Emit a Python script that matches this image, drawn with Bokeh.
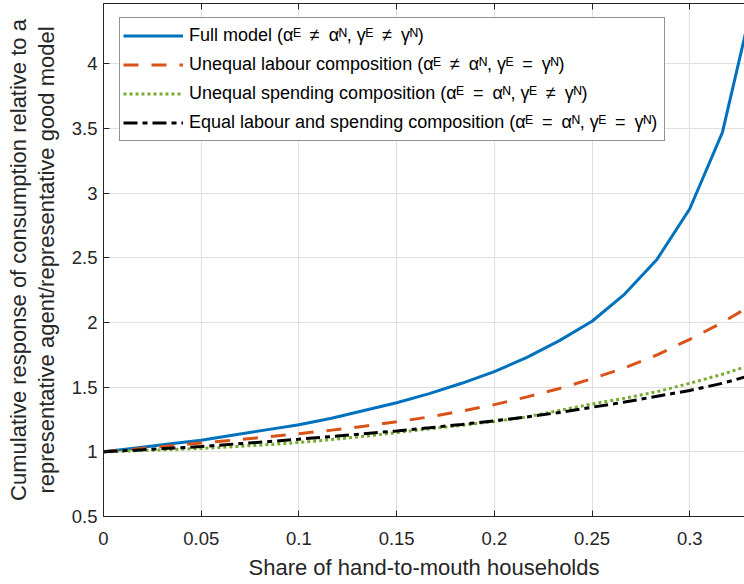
from bokeh.plotting import figure
from bokeh.models import (Legend, LegendItem, LinearAxis, FixedTicker,
                          PrintfTickFormatter, Range1d, CustomLabelingPolicy)
from bokeh.embed import file_html
from bokeh.resources import INLINE

# ---- data ----
share_htm = [0.0, 0.0167, 0.0333, 0.05, 0.0667, 0.0833, 0.1, 0.1167, 0.1333,
             0.15, 0.1667, 0.1833, 0.2, 0.2167, 0.2333, 0.25, 0.2667, 0.2833,
             0.3, 0.3167, 0.3333]
full_model = [1.0, 1.03, 1.06, 1.09, 1.13, 1.17, 1.21, 1.26, 1.32, 1.38, 1.45,
              1.53, 1.62, 1.73, 1.86, 2.01, 2.22, 2.49, 2.88, 3.47, 4.55]
unequal_labour = [1.0, 1.022, 1.045, 1.068, 1.091, 1.115, 1.14, 1.168, 1.198,
                  1.232, 1.27, 1.315, 1.365, 1.425, 1.49, 1.565, 1.65, 1.75,
                  1.87, 2.0, 2.15]
unequal_spending = [1.0, 1.008, 1.017, 1.026, 1.04, 1.055, 1.072, 1.095, 1.12,
                    1.149, 1.178, 1.205, 1.235, 1.27, 1.32, 1.37, 1.415, 1.465,
                    1.53, 1.6, 1.68]
equal_both = [1.0, 1.013, 1.027, 1.041, 1.06, 1.078, 1.098, 1.118, 1.14, 1.162,
              1.186, 1.212, 1.24, 1.27, 1.305, 1.345, 1.385, 1.43, 1.475, 1.53,
              1.6]

x_ticks = [0, 0.05, 0.1, 0.15, 0.2, 0.25, 0.3]
y_ticks = [0.5, 1, 1.5, 2, 2.5, 3, 3.5, 4]

S = "\u2002"  # en space, mimics the TeX spacing around relations
labels = [
    f"Full model (\u03b1\u1d31{S}\u2260{S}\u03b1\u1d3a, \u03b3\u1d31{S}\u2260{S}\u03b3\u1d3a)",
    f"Unequal labour composition (\u03b1\u1d31{S}\u2260{S}\u03b1\u1d3a, \u03b3\u1d31{S}={S}\u03b3\u1d3a)",
    f"Unequal spending composition (\u03b1\u1d31{S}={S}\u03b1\u1d3a, \u03b3\u1d31{S}\u2260{S}\u03b3\u1d3a)",
    f"Equal labour and spending composition (\u03b1\u1d31{S}={S}\u03b1\u1d3a, \u03b3\u1d31{S}={S}\u03b3\u1d3a)",
]

FONT = "Liberation Sans"
TXT = "#262626"

p = figure(width=744, height=584, output_backend="svg", toolbar_location=None,
           x_range=Range1d(0, 0.328), y_range=Range1d(0.5, 4.467),
           min_border_left=103, min_border_right=0, min_border_top=3,
           min_border_bottom=68)
p.outline_line_color = None
p.background_fill_color = "white"

r1 = p.line(share_htm, full_model, line_color="#0072BD", line_width=3)
r2 = p.line(share_htm, unequal_labour, line_color="#D95319", line_width=3,
            line_dash="15 13")
r3 = p.line(share_htm, unequal_spending, line_color="#77AC30", line_width=3,
            line_dash="3 3")
r4 = p.line(share_htm, equal_both, line_color="#000000", line_width=3,
            line_dash="14 5 5 5")

for ax in (p.xaxis[0], p.yaxis[0]):
    ax.axis_line_color = TXT
    ax.axis_line_width = 1
    ax.major_tick_line_color = TXT
    ax.major_tick_in = 6
    ax.major_tick_out = 0
    ax.minor_tick_line_color = None
    ax.major_label_text_font = FONT
    ax.major_label_text_font_size = "18.5px"
    ax.major_label_text_color = TXT
    ax.axis_label_text_font = FONT
    ax.axis_label_text_font_size = "22px"
    ax.axis_label_text_font_style = "normal"
    ax.axis_label_text_color = TXT

p.xaxis[0].ticker = FixedTicker(ticks=x_ticks)
p.yaxis[0].ticker = FixedTicker(ticks=y_ticks)
p.xaxis[0].formatter = PrintfTickFormatter(format="%g")
p.yaxis[0].formatter = PrintfTickFormatter(format="%g")
p.xaxis[0].axis_label = "Share of hand-to-mouth households"
p.yaxis[0].axis_label = ("Cumulative response of consumption relative to a\n"
                         "representative agent/representative good model")
p.xaxis[0].major_label_standoff = 15
p.xaxis[0].axis_label_standoff = 7
p.yaxis[0].major_label_standoff = 6
p.yaxis[0].axis_label_standoff = 10
p.yaxis[0].axis_label_text_line_height = 1.1

top = LinearAxis(ticker=FixedTicker(ticks=x_ticks), axis_line_color=TXT,
                 major_tick_line_color=TXT, major_tick_in=6, major_tick_out=0,
                 minor_tick_line_color=None, major_label_standoff=0,
                 major_label_text_font_size="0px",
                 major_label_policy=CustomLabelingPolicy(
                     code="for (const i of indices) indices.unset(i); return indices"))
p.add_layout(top, "above")

p.xgrid.ticker = FixedTicker(ticks=x_ticks)
p.ygrid.ticker = FixedTicker(ticks=y_ticks)
p.grid.grid_line_color = "#dfdfdf"
p.grid.grid_line_width = 1

legend = Legend(items=[LegendItem(label=l, renderers=[r]) for l, r in
                       zip(labels, [r1, r2, r3, r4])],
                location=(16, 375))
legend.label_text_font = FONT
legend.label_text_font_size = "18px"
legend.label_text_color = "#000000"
legend.glyph_width = 60
legend.glyph_height = 29
legend.label_height = 29
legend.label_width = 472
legend.spacing = 0
legend.padding = 3
legend.margin = 0
legend.label_standoff = 6
legend.border_line_color = TXT
legend.border_line_width = 1
legend.background_fill_alpha = 1
p.add_layout(legend)

open("out.html", "w").write(file_html(p, INLINE))
